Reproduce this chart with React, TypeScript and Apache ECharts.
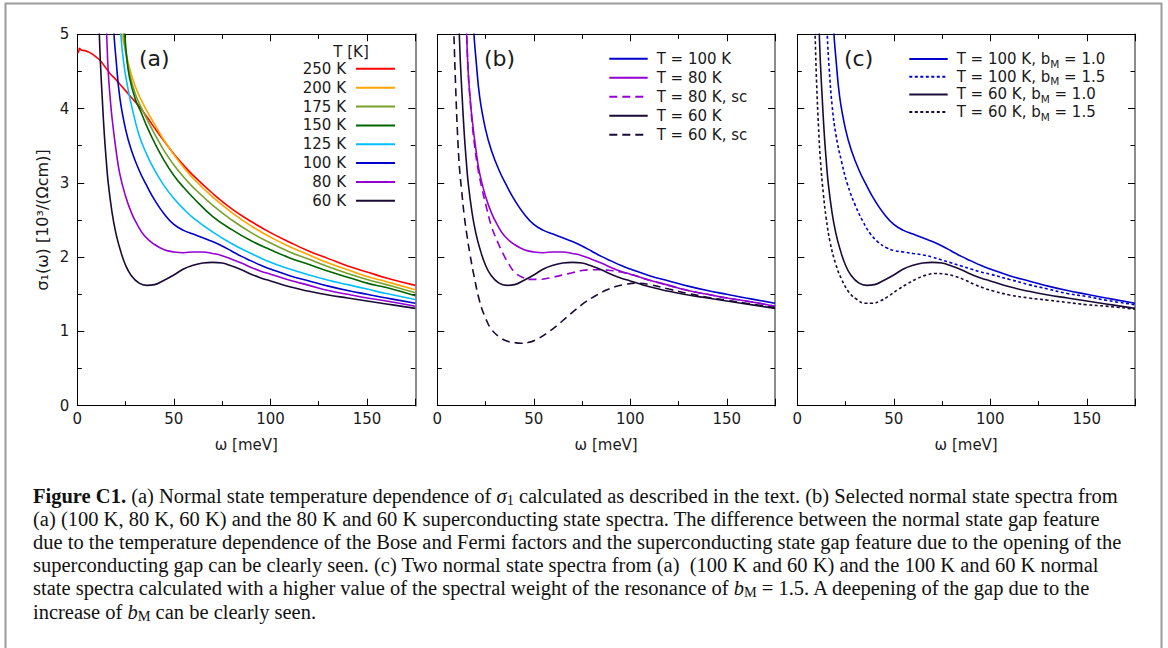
import { useEffect, useRef } from 'react';
import * as echarts from 'echarts';

type Pt = [number, number];

// ---------------- data ----------------
// Panel (a): normal-state sigma_1(omega) for several temperatures
const T250K: Pt[] = [[0, 4.75], [0.6, 4.76], [1.2, 4.81], [2, 4.79], [4, 4.78], [6, 4.76], [8, 4.73], [11.7, 4.65], [15, 4.54], [17, 4.47], [20, 4.39], [23, 4.30], [28, 4.15], [32, 4.03], [36, 3.89], [40, 3.74], [45, 3.56], [50, 3.39], [55, 3.24], [60, 3.10], [70, 2.86], [80, 2.65], [90, 2.48], [100, 2.33], [110, 2.20], [120, 2.08], [130, 1.98], [140, 1.88], [150, 1.80], [160, 1.72], [175, 1.62]];
const T200K: Pt[] = [[21.5, 5.4], [23.2, 5.0], [25, 4.78], [27, 4.55], [30, 4.30], [33, 4.12], [36, 3.97], [40, 3.79], [45, 3.57], [50, 3.38], [55, 3.21], [60, 3.06], [70, 2.81], [80, 2.60], [90, 2.42], [100, 2.27], [110, 2.14], [120, 2.03], [130, 1.92], [140, 1.83], [150, 1.74], [160, 1.67], [175, 1.56]];
const T175K: Pt[] = [[22.5, 5.4], [24, 5.0], [25, 4.76], [27, 4.48], [30, 4.20], [33, 4.02], [36, 3.86], [40, 3.66], [45, 3.43], [50, 3.24], [55, 3.08], [60, 2.94], [70, 2.70], [80, 2.50], [90, 2.33], [100, 2.19], [110, 2.07], [120, 1.97], [130, 1.87], [140, 1.78], [150, 1.70], [160, 1.63], [175, 1.52]];
const T150K: Pt[] = [[23.5, 5.5], [24.6, 5.0], [25.5, 4.72], [27, 4.42], [30, 4.13], [33, 3.95], [36, 3.76], [40, 3.54], [45, 3.30], [50, 3.10], [55, 2.94], [60, 2.80], [70, 2.55], [80, 2.37], [90, 2.22], [100, 2.10], [110, 1.99], [120, 1.90], [130, 1.81], [140, 1.73], [150, 1.65], [160, 1.59], [175, 1.48]];
const T125K: Pt[] = [[21.3, 5.5], [22.5, 5.0], [24, 4.62], [26, 4.30], [28, 4.05], [32, 3.64], [36, 3.38], [40, 3.17], [45, 2.96], [50, 2.79], [55, 2.65], [60, 2.53], [70, 2.34], [80, 2.18], [90, 2.05], [100, 1.93], [110, 1.84], [120, 1.76], [130, 1.69], [140, 1.63], [150, 1.57], [160, 1.51], [175, 1.43]];
const T100K: Pt[] = [[18.2, 5.5], [19, 5.0], [20, 4.68], [22, 4.15], [25, 3.72], [28, 3.44], [32, 3.17], [36, 2.96], [40, 2.77], [45, 2.58], [50, 2.44], [55, 2.36], [60, 2.31], [65, 2.26], [70, 2.21], [75, 2.15], [80, 2.08], [85, 2.01], [90, 1.95], [95, 1.89], [100, 1.84], [110, 1.75], [120, 1.68], [130, 1.61], [140, 1.55], [150, 1.50], [160, 1.45], [175, 1.38]];
const T80K: Pt[] = [[14.4, 5.5], [15.2, 5.0], [16, 4.5], [17, 4.15], [18, 3.87], [20, 3.45], [22, 3.12], [25, 2.82], [28, 2.60], [31, 2.44], [35, 2.28], [40, 2.17], [45, 2.10], [50, 2.07], [55, 2.06], [60, 2.07], [65, 2.07], [70, 2.05], [75, 2.02], [80, 1.97], [85, 1.92], [90, 1.86], [95, 1.81], [100, 1.77], [110, 1.69], [120, 1.62], [130, 1.55], [140, 1.50], [150, 1.45], [160, 1.41], [175, 1.34]];
const T60K: Pt[] = [[10.6, 5.5], [11.4, 5.0], [12, 4.6], [13, 4.1], [14, 3.65], [15, 3.3], [16, 3.0], [18, 2.6], [20, 2.32], [22, 2.12], [25, 1.89], [28, 1.75], [32, 1.65], [36, 1.62], [40, 1.63], [45, 1.69], [50, 1.76], [55, 1.84], [60, 1.89], [65, 1.92], [70, 1.93], [75, 1.92], [80, 1.88], [85, 1.83], [90, 1.77], [95, 1.72], [100, 1.68], [110, 1.60], [120, 1.54], [130, 1.49], [140, 1.45], [150, 1.41], [160, 1.37], [175, 1.31]];

// Panel (b): superconducting-state spectra
const T80Ksc: Pt[] = [[14.4, 5.5], [15.2, 5.0], [16, 4.5], [17, 4.12], [18, 3.82], [19, 3.57], [21, 3.2], [23, 2.94], [25, 2.72], [28, 2.42], [31, 2.22], [34, 2.05], [37, 1.91], [40, 1.80], [44, 1.73], [48, 1.70], [52, 1.70], [56, 1.71], [60, 1.73], [65, 1.76], [70, 1.79], [75, 1.82], [80, 1.83], [85, 1.83], [90, 1.82], [95, 1.80], [100, 1.77], [110, 1.69], [120, 1.62], [130, 1.55], [140, 1.50], [150, 1.45], [160, 1.41], [175, 1.34]];
const T60Ksc: Pt[] = [[8.0, 5.5], [8.6, 5.0], [9.5, 4.3], [10.5, 3.65], [11.5, 3.2], [12.6, 2.9], [14, 2.55], [15.5, 2.27], [17, 2.03], [19, 1.75], [22, 1.40], [25, 1.18], [28, 1.03], [32, 0.93], [36, 0.87], [40, 0.85], [43, 0.84], [47, 0.85], [52, 0.90], [57, 0.98], [62, 1.08], [67, 1.19], [72, 1.30], [77, 1.40], [82, 1.48], [87, 1.55], [92, 1.60], [97, 1.63], [103, 1.65], [110, 1.63], [120, 1.57], [130, 1.51], [140, 1.46], [150, 1.42], [160, 1.38], [175, 1.32]];

// Panel (c): higher spectral weight of the resonance, b_M = 1.5
const T100Kb15: Pt[] = [[14.8, 5.5], [15.5, 5.0], [16.5, 4.55], [18, 4.05], [20, 3.65], [23, 3.28], [26, 2.98], [30, 2.70], [34, 2.48], [38, 2.31], [42, 2.20], [46, 2.13], [50, 2.09], [55, 2.07], [60, 2.05], [65, 2.03], [70, 2.00], [75, 1.96], [80, 1.92], [85, 1.88], [90, 1.84], [95, 1.80], [100, 1.77], [110, 1.70], [120, 1.63], [130, 1.57], [140, 1.51], [150, 1.47], [160, 1.42], [175, 1.36]];
const T60Kb15: Pt[] = [[8.5, 5.5], [9.2, 5.0], [10, 4.35], [11, 3.75], [12, 3.3], [13.5, 2.85], [15, 2.52], [17, 2.2], [20, 1.9], [23, 1.7], [27, 1.52], [31, 1.43], [35, 1.38], [39, 1.38], [43, 1.41], [47, 1.47], [52, 1.56], [57, 1.64], [62, 1.71], [67, 1.76], [72, 1.78], [77, 1.77], [82, 1.74], [87, 1.69], [92, 1.63], [97, 1.58], [102, 1.54], [110, 1.49], [120, 1.45], [130, 1.42], [140, 1.39], [150, 1.36], [160, 1.34], [175, 1.30]];

// ---------------- texts ----------------
const legendA = ['250 K', '200 K', '175 K', '150 K', '125 K', '100 K', '80 K', '60 K'];
const legendB = ['T = 100 K', 'T = 80 K', 'T = 80 K, sc', 'T = 60 K', 'T = 60 K, sc'];
const legendC = ['T = 100 K, bM = 1.0', 'T = 100 K, bM = 1.5', 'T = 60 K, bM = 1.0', 'T = 60 K, bM = 1.5'];
const legendTitleA = 'T [K]';
const panelLabels = ['(a)', '(b)', '(c)'];
const xTickLabels = ['0', '50', '100', '150'];
const yTickLabels = ['0', '1', '2', '3', '4', '5'];
const xAxisName = 'ω [meV]';
const yAxisName = 'σ₁(ω) [10³/(Ωcm)]';
const captionLines = [
  '{bd|Figure C1.} (a) Normal state temperature dependence of {it|σ}{sub|1} calculated as described in the text. (b) Selected normal state spectra from',
  '(a) (100 K, 80 K, 60 K) and the 80 K and 60 K superconducting state spectra. The difference between the normal state gap feature',
  'due to the temperature dependence of the Bose and Fermi factors and the superconducting state gap feature due to the opening of the',
  'superconducting gap can be clearly seen. (c) Two normal state spectra from (a)  (100 K and 60 K) and the 100 K and 60 K normal',
  'state spectra calculated with a higher value of the spectral weight of the resonance of {it|b}{sub|M} = 1.5. A deepening of the gap due to the',
  'increase of {it|b}{sub|M} can be clearly seen.',
];

// ---------------- styling ----------------
const FONT = '"DejaVu Sans", Verdana, sans-serif';
const SERIF = '"Liberation Serif", "Times New Roman", serif';
const TXT = '#1a1a1a';
const COL = {
  red: '#ff0000', orange: '#ffa500', olive: '#78a02a', green: '#006400',
  cyan: '#00bfff', blue: '#0000cd', purple: '#9400d3', navy: '#1a0a36',
};
const LW = 1.6;
const DASH = [8, 5];
const DOT = [3, 2.5];

const GRID_TOP = 34.3;
const GRID_H = 371.4;
const grids = [
  { left: 77.3, top: GRID_TOP, width: 338, height: GRID_H },
  { left: 437.3, top: GRID_TOP, width: 337.7, height: GRID_H },
  { left: 797.3, top: GRID_TOP, width: 337.7, height: GRID_H },
];
const panelLabelX = [139, 484, 844];

const tickLine = { color: '#000', width: 1 };

function makeXAxes(g: number) {
  const common: any = {
    type: 'value', gridIndex: g, min: 0, max: 175, interval: 50,
    splitLine: { show: false }, minorSplitLine: { show: false },
    axisTick: { show: true, inside: true, length: 7, lineStyle: tickLine },
    minorTick: { show: true, splitNumber: 2, length: 4.5, lineStyle: tickLine },
    axisLine: { show: true, onZero: false, lineStyle: { color: '#000', width: 1 } },
  };
  return [
    {
      ...common, position: 'bottom',
      axisLabel: {
        show: true, margin: 6, fontFamily: FONT, fontSize: 15, color: TXT, hideOverlap: false,
        formatter: (v: number) => (xTickLabels.includes(String(v)) ? String(v) : ''),
      },
      name: xAxisName, nameLocation: 'middle', nameGap: 32, nameMoveOverlap: false,
      nameTextStyle: { fontFamily: FONT, fontSize: 15, color: TXT },
    },
    { ...common, position: 'top', axisLabel: { show: false } },
  ];
}

function makeYAxes(g: number) {
  const common: any = {
    type: 'value', gridIndex: g, min: 0, max: 5, interval: 1,
    splitLine: { show: false }, minorSplitLine: { show: false },
    axisTick: { show: true, inside: true, length: 7, lineStyle: tickLine },
    minorTick: { show: true, splitNumber: 2, length: 4.5, lineStyle: tickLine },
  };
  const left: any = {
    ...common, position: 'left',
    axisLine: { show: true, onZero: false, lineStyle: { color: '#000', width: 1 } },
    axisLabel: {
      show: g === 0, margin: 8, fontFamily: FONT, fontSize: 15, color: TXT, hideOverlap: false,
      formatter: (v: number) => (yTickLabels.includes(String(v)) ? String(v) : ''),
    },
  };
  if (g === 0) {
    left.name = yAxisName;
    left.nameLocation = 'middle';
    left.nameGap = 26.5;
    left.nameMoveOverlap = false;
    left.nameTextStyle = { fontFamily: FONT, fontSize: 16, color: TXT };
  }
  return [
    left,
    {
      ...common, position: 'right',
      axisLine: { show: true, onZero: false, lineStyle: { color: '#8c8c8c', width: 2 } },
      axisLabel: { show: false },
    },
  ];
}

function line(name: string, data: Pt[], color: string, g: number, type: any = 'solid') {
  return {
    type: 'line', name, data, xAxisIndex: 2 * g, yAxisIndex: 2 * g,
    showSymbol: false, symbol: 'none', smooth: 0.45, clip: true,
    lineStyle: { color, width: LW, type }, itemStyle: { color },
    emphasis: { disabled: true }, silent: true,
  };
}

function captionFontSize(): number {
  try {
    const ctx = document.createElement('canvas').getContext('2d');
    if (!ctx) return 17;
    ctx.font = '100px "Liberation Serif"';
    const w = ctx.measureText(captionLines[2]).width;
    if (!w) return 17;
    return Math.max(13, Math.min(22, (100 * 1089) / w));
  } catch (e) {
    return 17;
  }
}

function buildOption() {
  const fs = captionFontSize();
  const capRich = {
    bd: { fontFamily: SERIF, fontSize: fs, fontWeight: 'bold', lineHeight: 22, fill: '#111' },
    it: { fontFamily: SERIF, fontSize: fs, fontStyle: 'italic', lineHeight: 22, fill: '#111' },
    sub: { fontFamily: SERIF, fontSize: fs * 0.7, lineHeight: fs * 0.7, verticalAlign: 'bottom', fill: '#111' },
  };

  const series = [
    line('250 K', T250K, COL.red, 0),
    line('200 K', T200K, COL.orange, 0),
    line('175 K', T175K, COL.olive, 0),
    line('150 K', T150K, COL.green, 0),
    line('125 K', T125K, COL.cyan, 0),
    line('100 K', T100K, COL.blue, 0),
    line('80 K', T80K, COL.purple, 0),
    line('60 K', T60K, COL.navy, 0),

    line('T = 100 K', T100K, COL.blue, 1),
    line('T = 80 K', T80K, COL.purple, 1),
    line('T = 80 K, sc', T80Ksc, COL.purple, 1, DASH),
    line('T = 60 K', T60K, COL.navy, 1),
    line('T = 60 K, sc', T60Ksc, COL.navy, 1, DASH),

    line('T = 100 K, bM = 1.0', T100K, COL.blue, 2),
    line('T = 100 K, bM = 1.5', T100Kb15, COL.blue, 2, DOT),
    line('T = 60 K, bM = 1.0', T60K, COL.navy, 2),
    line('T = 60 K, bM = 1.5', T60Kb15, COL.navy, 2, DOT),
  ];

  const legendText = { fontFamily: FONT, fontSize: 15, color: TXT };
  const noSymbol = { color: 'rgba(0,0,0,0)', borderWidth: 0, opacity: 0 };
  const legendLine = { width: 2 };

  const graphic: any[] = [
    {
      type: 'rect', z: -10, silent: true,
      shape: { x: 5.5, y: 3.5, width: 1156, height: 720 },
      style: { fill: 'none', stroke: '#9c9c9c', lineWidth: 2 },
    },
    ...panelLabels.map((t, i) => ({
      type: 'text', silent: true, x: panelLabelX[i], y: 58,
      style: { text: t, fontFamily: FONT, fontSize: 22, fill: TXT, align: 'left', verticalAlign: 'middle' },
    })),
    {
      type: 'text', silent: true, x: 351, y: 51.5,
      style: { text: legendTitleA, fontFamily: FONT, fontSize: 15, fill: TXT, align: 'center', verticalAlign: 'middle' },
    },
    ...captionLines.map((t, i) => ({
      type: 'text', silent: true, x: 33, y: 496 + i * 23.1,
      style: {
        text: t, fontFamily: SERIF, fontSize: fs, lineHeight: 22, fill: '#111',
        align: 'left', verticalAlign: 'middle', rich: capRich,
      },
    })),
  ];

  return {
    animation: false,
    backgroundColor: '#ffffff',
    grid: grids.map((g) => ({ ...g, containLabel: false, outerBoundsMode: 'none' })),
    xAxis: [0, 1, 2].flatMap((g) => makeXAxes(g)),
    yAxis: [0, 1, 2].flatMap((g) => makeYAxes(g)),
    legend: [
      {
        data: legendA, orient: 'vertical', align: 'right', right: 1168 - 396, top: 61.3,
        padding: 0, itemWidth: 39, itemHeight: 14, itemGap: 3.86, selectedMode: false,
        itemStyle: noSymbol, lineStyle: legendLine,
        textStyle: { ...legendText, lineHeight: 14, padding: [0, 5, 0, 0] },
      },
      {
        data: legendB, orient: 'vertical', align: 'left', left: 608.3, top: 51.3,
        padding: 0, itemWidth: 38.4, itemHeight: 14, itemGap: 4, selectedMode: false,
        itemStyle: noSymbol, lineStyle: legendLine,
        textStyle: { ...legendText, lineHeight: 14, padding: [0, 0, 0, 4] },
      },
      {
        data: legendC, orient: 'vertical', align: 'left', left: 908.3, top: 49,
        padding: 0, itemWidth: 38.4, itemHeight: 14, itemGap: -2.3, selectedMode: false,
        itemStyle: noSymbol, lineStyle: legendLine,
        formatter: (name: string) => name.replace('bM', 'b{s|M}'),
        textStyle: {
          ...legendText, lineHeight: 20, padding: [0, 0, 0, 4],
          rich: { s: { fontFamily: FONT, fontSize: 10.5, lineHeight: 10.5, verticalAlign: 'bottom', color: TXT } },
        },
      },
    ],
    series,
    graphic,
  };
}

export default function App() {
  const ref = useRef<HTMLDivElement | null>(null);
  useEffect(() => {
    if (!ref.current) return;
    const chart = echarts.init(ref.current, undefined, { renderer: 'svg' });
    chart.setOption(buildOption() as any);
    return () => chart.dispose();
  }, []);
  return (
    <div
      ref={ref}
      style={{ position: 'fixed', left: 0, top: 0, width: 1168, height: 648, background: '#fff' }}
    />
  );
}
